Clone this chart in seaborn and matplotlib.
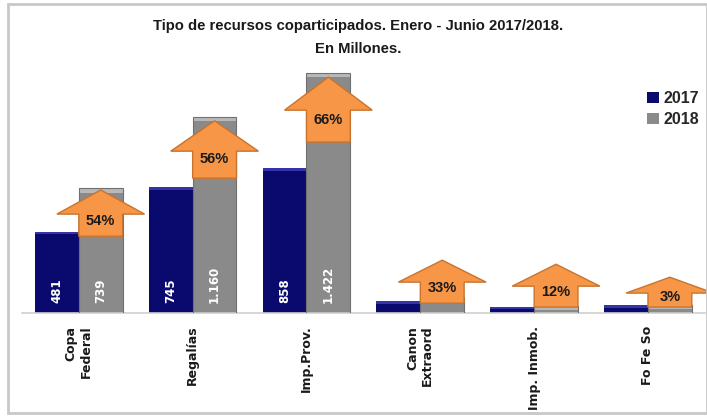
import numpy as np
import pandas as pd
import matplotlib.pyplot as plt
from matplotlib.patches import Polygon, Rectangle
import seaborn as sns

# ── Data ─────────────────────────────────────────────────────────────────────
categories = ["Copa\nFederal", "Regalías", "Imp.Prov.", "Canon\nExtraord",
              "Imp. Inmob.", "Fo Fe So"]
vals_2017 = [481, 745, 858, 71, 36, 47]
vals_2018 = [739, 1160, 1422, 95, 41, 48]
growth = ["54%", "56%", "66%", "33%", "12%", "3%"]

# arrow layout (data units): tip, head base, shaft bottom
arrow_tip = [730, 1140, 1399, 314, 290, 213]
arrow_base = [587, 960, 1203, 184, 160, 119]
arrow_bottom = [456, 800, 1014, 59, 36, 36]

# ── Style ────────────────────────────────────────────────────────────────────
sns.set_theme(style="white")
NARROW = ["Liberation Sans Narrow", "Liberation Sans", "DejaVu Sans"]
plt.rcParams["font.family"] = ["DejaVu Sans"]
COLORS = {"2017": "#0a0a6e", "2018": "#8a8a8a"}
ORANGE = "#f79646"
ORANGE_EDGE = "#c8742e"

df = pd.DataFrame({
    "cat": categories * 2,
    "year": ["2017"] * len(categories) + ["2018"] * len(categories),
    "val": vals_2017 + vals_2018,
})

fig = plt.figure(figsize=(7.07, 4.17), dpi=100)
ax = fig.add_axes([0.031, 0.249, 0.966, 0.607])

sns.barplot(data=df, x="cat", y="val", hue="year", palette=COLORS,
            width=0.77, gap=0, saturation=1, ax=ax, linewidth=0,
            legend=True)

# 3D-ish caps and value labels
for p in list(ax.patches):
    h = p.get_height()
    if h <= 0 or np.isnan(h):
        continue
    fc = p.get_facecolor()
    is17 = fc[2] > fc[0] + 0.1
    capc = "#3434a8" if is17 else "#b8b8b8"
    cap = 14 if is17 else 24
    ax.add_patch(Rectangle((p.get_x(), h - cap), p.get_width(), cap,
                           facecolor=capc, edgecolor="none", zorder=3))
    if not is17:
        ax.add_patch(Rectangle((p.get_x(), 0), p.get_width(), h,
                               facecolor="none", edgecolor="#707070",
                               linewidth=0.8, zorder=3))
    if h > 300:
        ax.text(p.get_x() + p.get_width() / 2, 60,
                f"{h:,.0f}".replace(",", "."), rotation=90, ha="center",
                va="bottom", color="white", fontweight="bold", fontsize=8.5,
                zorder=4)

# growth arrows
bar_w = 0.77 / 2
for i, g in enumerate(growth):
    cx = i + bar_w / 2
    sw = bar_w / 2
    hw = 0.77 / 2
    pts = [(cx - sw, arrow_bottom[i]), (cx - sw, arrow_base[i]),
           (cx - hw, arrow_base[i]), (cx, arrow_tip[i]),
           (cx + hw, arrow_base[i]), (cx + sw, arrow_base[i]),
           (cx + sw, arrow_bottom[i])]
    ax.add_patch(Polygon(pts, closed=True, facecolor=ORANGE,
                         edgecolor=ORANGE_EDGE, linewidth=1, zorder=5,
                         clip_on=False))
    ty = arrow_base[i] - 0.3 * (arrow_base[i] - arrow_bottom[i])
    ax.text(cx, ty, g, ha="center", va="center", fontweight="bold",
            fontsize=10.5, family=NARROW, color="#1a1a1a", zorder=6)

ax.set_xlim(-0.5, 5.5)
ax.set_ylim(0, 1500)
ax.set_yticks([])
ax.set_xlabel("")
ax.set_ylabel("")
ax.set_xticks(range(len(categories)))
ax.set_xticklabels(categories, rotation=90, fontweight="bold", fontsize=9,
                   va="top", ha="center", multialignment="right")
ax.tick_params(axis="x", length=0, pad=9, colors="#1a1a1a")
for s in ["top", "left", "right"]:
    ax.spines[s].set_visible(False)
ax.spines["bottom"].set_color("#d0d0d0")
ax.spines["bottom"].set_linewidth(1.2)

leg = ax.legend(loc="upper left", bbox_to_anchor=(633 / 707, 1 - 77 / 417),
                bbox_transform=fig.transFigure, frameon=False,
                handlelength=0.7, handleheight=0.7, handletextpad=0.3,
                labelspacing=0.35, prop={"family": NARROW, "weight": "bold",
                                         "size": 11.5})

fig.text(0.506, 1 - 26 / 417, "Tipo de recursos coparticipados. Enero - Junio 2017/2018.",
         ha="center", va="center", fontweight="bold", fontsize=10.7,
         family=NARROW, color="#1a1a1a")
fig.text(0.506, 1 - 49 / 417, "En Millones.", ha="center", va="center",
         fontweight="bold", fontsize=10.7, family=NARROW, color="#1a1a1a")

# outer frame
fig.patches.append(Rectangle((8 / 707, 4 / 417), 1 - 8 / 707, 1 - 8 / 417,
                             transform=fig.transFigure, facecolor="none",
                             edgecolor="#c8c8c8", linewidth=2))

fig.savefig("out.png", dpi=100)
